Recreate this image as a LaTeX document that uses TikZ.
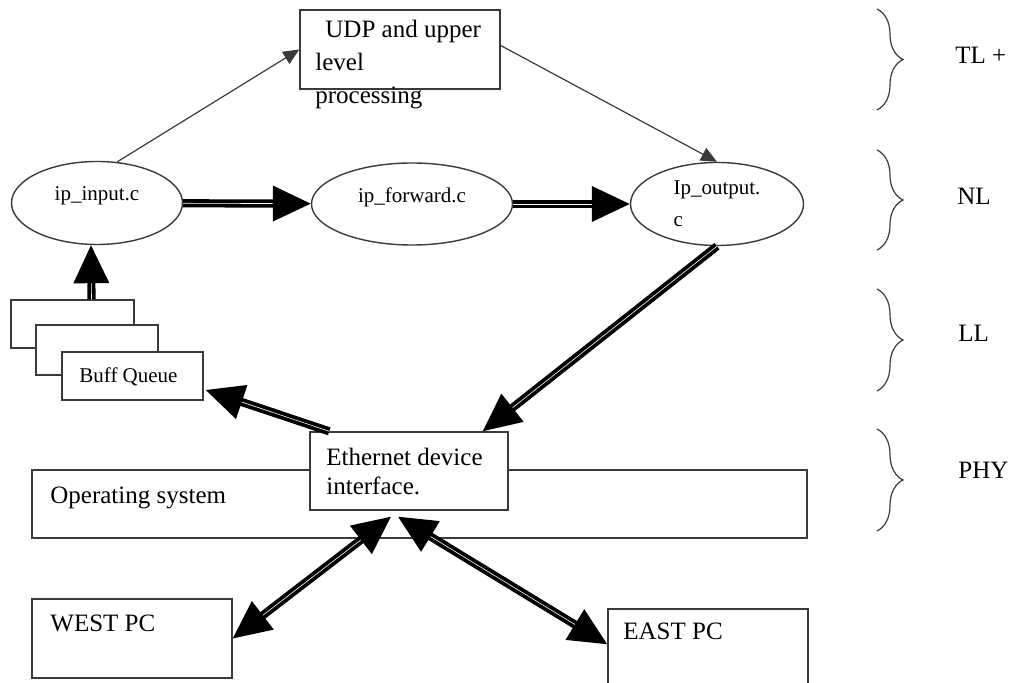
\documentclass[tikz,border=0pt]{standalone}
\usepackage{fontspec}
\setmainfont{Liberation Serif}
\usetikzlibrary{calc,arrows.meta,shapes.geometric,decorations.pathreplacing}
\definecolor{ink}{HTML}{000000}
\definecolor{edge}{HTML}{3A3A3A}
\tikzset{
  box/.style={draw=edge, line width=0.7pt, fill=white, inner sep=0pt},
  oval/.style={ellipse, draw=edge, line width=0.7pt, fill=white, inner sep=0pt, align=left, font=\fontsize{10.5}{16}\selectfont},
  txt/.style={inner sep=0pt, anchor=north west, align=left, font=\fontsize{12.5}{14.5}\selectfont},
  txts/.style={inner sep=0pt, anchor=north west, font=\fontsize{10.5}{13}\selectfont},
  thin/.style={draw=edge, line width=0.6pt, -{Triangle[length=8pt,width=7pt]}},
  fat/.style={draw=ink, line width=1.9pt, double=white, double distance=0.3pt},
  tip/.style={-{Triangle[length=19pt,width=17.5pt]}},
  tips/.style={{Triangle[length=19pt,width=17.5pt]}-{Triangle[length=19pt,width=17.5pt]}},
  brc/.style={draw=edge, line width=0.6pt, decorate, decoration={brace, amplitude=13pt}},
}

\begin{document}
\begin{tikzpicture}[x=0.5pt,y=-0.5pt]
  \useasboundingbox (0,0) rectangle (1012,683);

  \node[box, minimum width=100pt, minimum height=39.5pt] (udp) at (400,49.5) {};
  \node[txt, font=\fontsize{12.5}{16.5}\selectfont] (udptext) at (315,20) {\hspace{5pt}UDP and upper\\level\\processing};

  \node[oval, minimum width=85.5pt, minimum height=41.5pt, text depth=9pt] (ipin) at (97,203) {ip\_input.c};
  \node[oval, minimum width=100.5pt, minimum height=41pt, text depth=9pt] (ipfwd) at (412,204) {ip\_forward.c};
  \node[oval, minimum width=86.5pt, minimum height=41.5pt] (ipout) at (717,204) {Ip\_output.\\c};

  \node[box, minimum width=61.5pt, minimum height=24pt] (buffa) at (72.5,324) {};
  \node[box, minimum width=61pt, minimum height=25pt] (buffb) at (97,350) {};
  \node[box, minimum width=70.5pt, minimum height=24pt] (buffc) at (132.5,376) {};
  \node[txts] (bufftext) at (79,367) {Buff Queue};

  \node[box, minimum width=387.5pt, minimum height=34pt] (os) at (419.5,504) {};
  \node[txt] (ostext) at (50,487) {Operating system};
  \node[box, minimum width=99pt, minimum height=39pt] (eth) at (409,471) {};
  \node[txt] (ethtext) at (326,448) {Ethernet device\\interface.};

  \node[box, minimum width=100pt, minimum height=39.5pt] (west) at (132,638.5) {};
  \node[txt] (westtext) at (50,615) {WEST PC};
  \node[box, minimum width=100pt, minimum height=39.5pt] (east) at (708,648.5) {};
  \node[txt] (easttext) at (623,623) {EAST PC};

  \draw[thin] (ipin.64) -- (udp.west);
  \draw[thin] ($(udp.east)+(0,-4)$) -- (ipout.north);

  \draw[fat, tip] (ipin) -- (ipfwd);
  \draw[fat, tip] (ipfwd) -- (ipout);
  \draw[fat, tip] ($(buffa.north)+(19,0)$) -- ($(ipin.south)+(-6,0)$);
  \draw[fat, tip] (ipout.south) -- ($(eth.north east)+(-26,0)$);
  \draw[fat, tip] ($(eth.north west)+(20,0)$) -- ($(buffc.east)+(2,14)$);
  \draw[fat, tips] (west.east) -- ($(eth.south)+(-18,6)$);
  \draw[fat, tips] ($(eth.south)+(-11,6)$) -- ($(east.north west)+(0,36)$);

  \draw[brc] (877,9) -- (877,110);
  \draw[brc] (877,150) -- (877,250);
  \draw[brc] (877,289) -- (877,391);
  \draw[brc] (877,429) -- (877,531);
  \node[txt] (tl) at (955,47) {TL +};
  \node[txt] (nl) at (957,188) {NL};
  \node[txt] (ll) at (958,325) {LL};
  \node[txt] (phy) at (958,462) {PHY};
\end{tikzpicture}
\end{document}
